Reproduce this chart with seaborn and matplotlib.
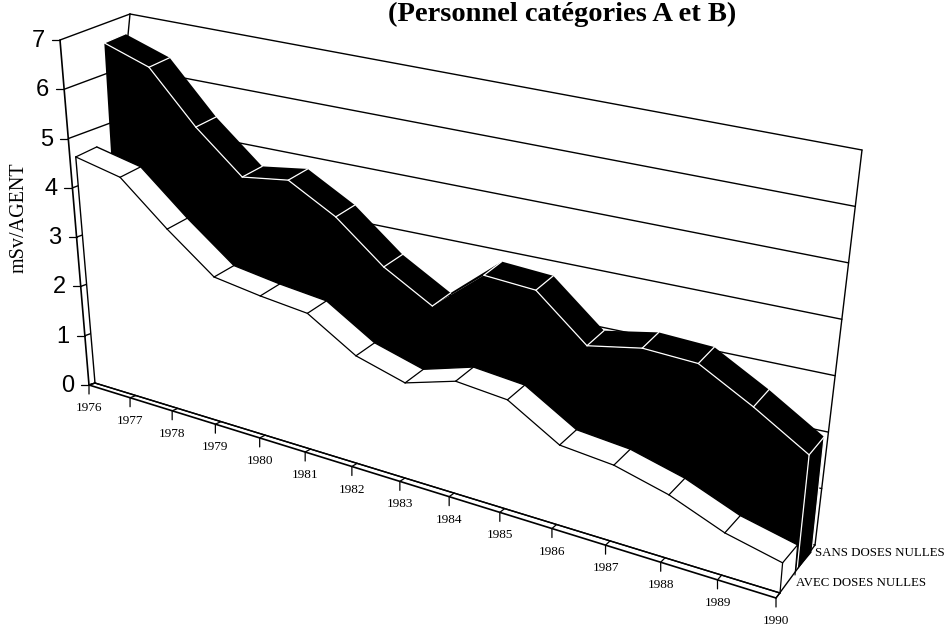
import matplotlib
matplotlib.use("Agg")
import matplotlib.pyplot as plt
import numpy as np
import pandas as pd
import seaborn as sns

years = [1976, 1977, 1978, 1979, 1980, 1981, 1982, 1983, 1984, 1985, 1986, 1987, 1988, 1989, 1990]
avec_doses = [4.81, 4.58, 3.71, 2.95, 2.80, 2.69, 2.10, 1.83, 2.12, 2.03, 1.46, 1.37, 1.12, 0.74, 0.52]
sans_doses = [6.90, 6.57, 5.54, 4.73, 4.86, 4.34, 3.58, 3.05, 3.85, 3.79, 2.99, 3.18, 3.14, 2.61, 2.02]
y_ticks = [0, 1, 2, 3, 4, 5, 6, 7]

# perspective along the year axis
K = 1.21
# plane of each series: base at first/last year, one unit up at first/last year, depth of ribbon
plane_avec = dict(b0=(95, 383), b1=(780, 593), u0=(-4, -47), u1=(5, -58), d0=(21, -10), d1=(15, -18))
plane_sans = dict(b0=(125, 381), b1=(797, 570), u0=(-3, -49), u1=(6, -57), d0=(21, -9), d1=(15, -18))
# frame of the chart
front_floor = np.array([(89, 385), (776, 598)], float)
inner_floor = np.array([(95, 383), (780, 593)], float)
front_top = np.array((60, 40), float)
back_left = np.array([(95, 383), (130, 14)], float)
back_right = np.array([(815, 545), (862, 150)], float)


def persp(t):
    t = np.asarray(t, float)
    return t / (t + K * (14 - t))


def project(values, p):
    t = np.arange(len(values))
    s = persp(t)[:, None]
    v = np.asarray(values)[:, None]
    b0, b1 = np.array(p["b0"], float), np.array(p["b1"], float)
    u0, u1 = np.array(p["u0"], float), np.array(p["u1"], float)
    d0, d1 = np.array(p["d0"], float), np.array(p["d1"], float)
    base = b0 + s * (b1 - b0)
    front = base + v * (u0 + s * (u1 - u0))
    back = front + d0 + s * (d1 - d0)
    back_base = base + d0 + s * (d1 - d0)
    return base, front, back, back_base


def line(ax, pts, color="black", lw=1.0, z=2):
    df = pd.DataFrame({"x": [q[0] for q in pts], "y": [q[1] for q in pts]})
    sns.lineplot(data=df, x="x", y="y", sort=False, estimator=None, color=color,
                 linewidth=lw, ax=ax, zorder=z, legend=False)


def draw_series(ax, values, p, face, edge, z):
    base, front, back, back_base = project(values, p)
    # side face at the last year
    ax.fill([front[-1][0], back[-1][0], back_base[-1][0], base[-1][0]],
            [front[-1][1], back[-1][1], back_base[-1][1], base[-1][1]],
            color=face, zorder=z, lw=0)
    # top ribbon
    for i in range(len(values) - 1):
        ax.fill([front[i][0], front[i + 1][0], back[i + 1][0], back[i][0]],
                [front[i][1], front[i + 1][1], back[i + 1][1], back[i][1]],
                color=face, zorder=z, lw=0)
    # front face
    poly = np.vstack([front, base[::-1]])
    ax.fill(poly[:, 0], poly[:, 1], color=face, zorder=z + 0.1, lw=0)
    for i in range(len(values)):
        line(ax, [front[i], back[i]], edge, 0.9, z + 0.2)
    for i in range(len(values) - 1):
        # a ribbon going up hides its front line on the dark series
        if face == "black" and values[i + 1] - values[i] > 0.5:
            continue
        line(ax, [front[i], front[i + 1]], edge, 0.9, z + 0.2)
    line(ax, [front[-1], base[-1]], edge, 0.9, z + 0.2)
    line(ax, [back[-1], back_base[-1]], edge, 0.8, z + 0.2)
    if face == "white":
        line(ax, [front[0], base[0]], edge, 1.0, z + 0.2)
        line(ax, back, edge, 1.0, z + 0.2)
        line(ax, [base[0], base[-1]], edge, 1.0, z + 0.2)


sns.set_theme(style="white")
plt.rcParams["font.family"] = ["Liberation Serif", "DejaVu Sans"]

fig = plt.figure(figsize=(9.49, 6.27), dpi=100)
ax = fig.add_axes([0, 0, 1, 1])

# back wall and left wall
for v in y_ticks:
    f = v / 7
    left = back_left[0] + f * (back_left[1] - back_left[0])
    right = back_right[0] + f * (back_right[1] - back_right[0])
    axis_pt = front_floor[0] + f * (front_top - front_floor[0])
    line(ax, [left, right], z=1)
    line(ax, [axis_pt, left], z=1)
    line(ax, [axis_pt + (-8, 0), axis_pt], lw=0.9, z=5)
    ax.text(axis_pt[0] - 15, axis_pt[1] + 1, str(v), ha="right", va="center", fontsize=17,
            family="Liberation Sans", color="black", zorder=6)
line(ax, back_left, z=1)
line(ax, back_right, z=1)
line(ax, [front_floor[0], front_top], lw=1.2, z=5)

draw_series(ax, sans_doses, plane_sans, "black", "white", 2)
draw_series(ax, avec_doses, plane_avec, "white", "black", 3)

# floor
line(ax, front_floor, lw=1.2, z=5)
line(ax, inner_floor, lw=1.0, z=5)
line(ax, [front_floor[0], inner_floor[0]], lw=1.0, z=5)
line(ax, [front_floor[1], back_right[0]], lw=1.0, z=5)
for i, yr in enumerate(years):
    s = persp(i)
    a = front_floor[0] + s * (front_floor[1] - front_floor[0])
    b = inner_floor[0] + s * (inner_floor[1] - inner_floor[0])
    line(ax, [a + (0, 9), a, b], lw=0.9, z=5)
    ax.text(a[0], a[1] + 23, str(yr), ha="center", va="center", fontsize=9.5,
            color="black", zorder=6)

ax.text(19, 218, "mSv/AGENT", rotation=90, ha="center", va="center", fontsize=14.5, color="black")
ax.text(562, 21, "(Personnel catégories A et B)", ha="center", va="baseline", fontsize=20.5,
        fontweight="bold", color="black")
ax.text(815, 553, "SANS DOSES NULLES", ha="left", va="center", fontsize=9.3, color="black")
ax.text(796, 583, "AVEC DOSES NULLES", ha="left", va="center", fontsize=9.3, color="black")

ax.set_xlim(0, 949)
ax.set_ylim(627, 0)
ax.axis("off")

plt.savefig("out.png", dpi=100)
